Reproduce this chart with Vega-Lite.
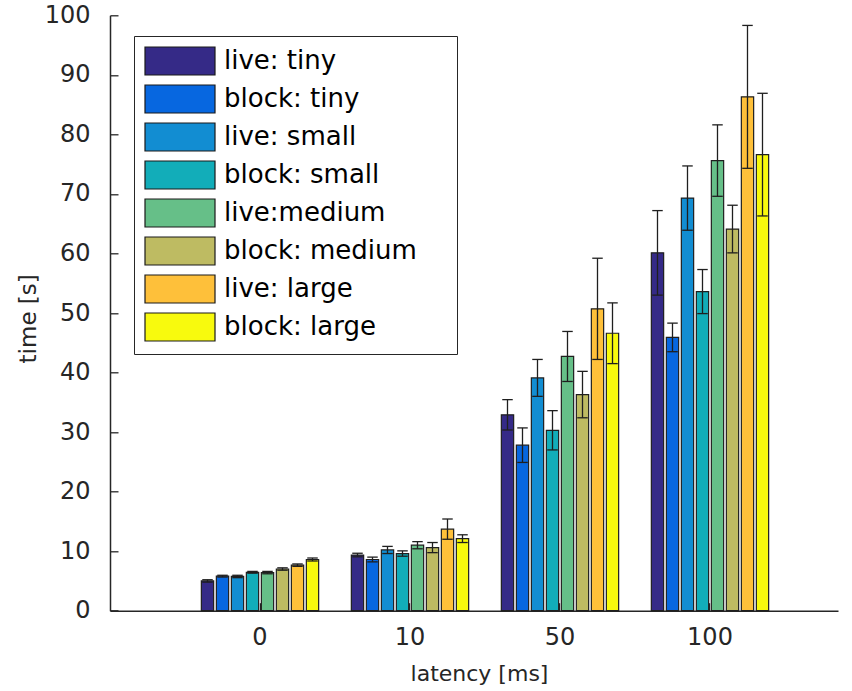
{
  "$schema": "https://vega.github.io/schema/vega-lite/v6.json",
  "width": 728,
  "height": 595.4,
  "autosize": {"type": "none"},
  "padding": {"left": 110, "top": 15.3, "right": 14, "bottom": 80.3},
  "background": "white",
  "config": {"view": {"stroke": null}, "font": "DejaVu Sans"},
  "data": {
    "values": [
      {"latency": "0", "config": "live: tiny", "time": 5.0, "lo": 4.8, "hi": 5.2},
      {"latency": "0", "config": "block: tiny", "time": 5.8, "lo": 5.65, "hi": 5.95},
      {"latency": "0", "config": "live: small", "time": 5.75, "lo": 5.55, "hi": 5.95},
      {"latency": "0", "config": "block: small", "time": 6.45, "lo": 6.3, "hi": 6.6},
      {"latency": "0", "config": "live:medium", "time": 6.4, "lo": 6.2, "hi": 6.6},
      {"latency": "0", "config": "block: medium", "time": 7.0, "lo": 6.8, "hi": 7.2},
      {"latency": "0", "config": "live: large", "time": 7.65, "lo": 7.45, "hi": 7.85},
      {"latency": "0", "config": "block: large", "time": 8.6, "lo": 8.35, "hi": 8.85},
      {"latency": "10", "config": "live: tiny", "time": 9.35, "lo": 9.05, "hi": 9.65},
      {"latency": "10", "config": "block: tiny", "time": 8.6, "lo": 8.2, "hi": 9.0},
      {"latency": "10", "config": "live: small", "time": 10.2, "lo": 9.6, "hi": 10.8},
      {"latency": "10", "config": "block: small", "time": 9.6, "lo": 9.15, "hi": 10.05},
      {"latency": "10", "config": "live:medium", "time": 11.0, "lo": 10.4, "hi": 11.6},
      {"latency": "10", "config": "block: medium", "time": 10.6, "lo": 9.75, "hi": 11.45},
      {"latency": "10", "config": "live: large", "time": 13.7, "lo": 12.0, "hi": 15.4},
      {"latency": "10", "config": "block: large", "time": 12.1, "lo": 11.45, "hi": 12.75},
      {"latency": "50", "config": "live: tiny", "time": 32.9, "lo": 30.35, "hi": 35.45},
      {"latency": "50", "config": "block: tiny", "time": 27.8, "lo": 24.9, "hi": 30.7},
      {"latency": "50", "config": "live: small", "time": 39.1, "lo": 36.0, "hi": 42.2},
      {"latency": "50", "config": "block: small", "time": 30.3, "lo": 27.0, "hi": 33.6},
      {"latency": "50", "config": "live:medium", "time": 42.7, "lo": 38.5, "hi": 46.9},
      {"latency": "50", "config": "block: medium", "time": 36.3, "lo": 32.4, "hi": 40.2},
      {"latency": "50", "config": "live: large", "time": 50.7, "lo": 42.2, "hi": 59.2},
      {"latency": "50", "config": "block: large", "time": 46.6, "lo": 41.5, "hi": 51.7},
      {"latency": "100", "config": "live: tiny", "time": 60.1, "lo": 53.0, "hi": 67.2},
      {"latency": "100", "config": "block: tiny", "time": 45.9, "lo": 43.5, "hi": 48.3},
      {"latency": "100", "config": "live: small", "time": 69.3, "lo": 63.9, "hi": 74.7},
      {"latency": "100", "config": "block: small", "time": 53.6, "lo": 49.9, "hi": 57.3},
      {"latency": "100", "config": "live:medium", "time": 75.6, "lo": 69.6, "hi": 81.6},
      {"latency": "100", "config": "block: medium", "time": 64.1, "lo": 60.1, "hi": 68.1},
      {"latency": "100", "config": "live: large", "time": 86.3, "lo": 74.3, "hi": 98.3},
      {"latency": "100", "config": "block: large", "time": 76.6, "lo": 66.3, "hi": 86.9}
    ]
  },
  "encoding": {
    "x": {
      "field": "latency",
      "type": "ordinal",
      "sort": ["0", "10", "50", "100"],
      "scale": {"paddingInner": 0.2, "paddingOuter": 0.5267, "align": 0.5696},
      "axis": {
        "title": "latency [ms]",
        "labelAngle": 0,
        "tickSize": -8,
        "tickWidth": 1.3,
        "tickColor": "#262626",
        "domainColor": "#262626",
        "domainWidth": 1.5,
        "labelFontSize": 24,
        "labelColor": "#262626",
        "labelPadding": 23,
        "labelBaseline": "top",
        "titleFontSize": 22,
        "titleFontWeight": "normal",
        "titleColor": "#262626",
        "titleX": 369,
        "titleY": 63,
        "titleBaseline": "middle",
        "titleAnchor": null,
        "titleAlign": "center"
      }
    },
    "xOffset": {
      "field": "config",
      "type": "nominal",
      "sort": ["live: tiny", "block: tiny", "live: small", "block: small", "live:medium", "block: medium", "live: large", "block: large"],
      "scale": {"paddingInner": 0.18, "paddingOuter": 0.09}
    }
  },
  "layer": [
    {
      "mark": {"type": "bar", "stroke": "#1f1f1f", "strokeWidth": 1.2, "opacity": 1},
      "encoding": {
        "y": {
          "field": "time",
          "type": "quantitative",
          "title": "time [s]",
          "scale": {"domain": [0, 100], "nice": false},
          "axis": {
            "values": [0, 10, 20, 30, 40, 50, 60, 70, 80, 90, 100],
            "grid": false,
            "tickSize": -8,
            "tickWidth": 1.3,
            "tickColor": "#262626",
            "domainColor": "#262626",
            "domainWidth": 1.5,
            "labelFontSize": 24,
            "labelColor": "#262626",
            "labelPadding": 28,
            "titleFontSize": 23,
            "titleFontWeight": "normal",
            "titleColor": "#262626",
            "titleX": -82,
            "titleY": 303,
            "titleAngle": -90,
            "titleBaseline": "middle",
            "titleAlign": "center"
          }
        },
        "color": {
          "field": "config",
          "type": "nominal",
          "sort": ["live: tiny", "block: tiny", "live: small", "block: small", "live:medium", "block: medium", "live: large", "block: large"],
          "scale": {
            "domain": ["live: tiny", "block: tiny", "live: small", "block: small", "live:medium", "block: medium", "live: large", "block: large"],
            "range": ["#352a87", "#0767e0", "#128dd2", "#12adb9", "#66bf88", "#bebb62", "#fec03a", "#f8fa0d"]
          },
          "legend": {
            "title": null,
            "orient": "none",
            "legendX": 24,
            "legendY": 20.7,
            "direction": "vertical",
            "strokeColor": "#262626",
            "fillColor": "white",
            "padding": 10,
            "symbolType": "M-1,-1H4V1H-1Z",
            "symbolSize": 784,
            "symbolStrokeColor": "#1a1a1a",
            "symbolStrokeWidth": 1.2,
            "symbolOpacity": 1,
            "labelFontSize": 26,
            "labelColor": "#000000",
            "labelOffset": 50,
            "labelLimit": 400,
            "rowPadding": 4,
            "labelExpr": "datum.label + '\u00a0\u00a0\u00a0\u2009\u200b'"
          }
        }
      }
    },
    {
      "mark": {"type": "rule", "color": "#1f1f1f", "strokeWidth": 1.3},
      "encoding": {
        "y": {"field": "lo", "type": "quantitative", "title": "time [s]"},
        "y2": {"field": "hi"}
      }
    },
    {
      "mark": {"type": "tick", "color": "#1f1f1f", "thickness": 1.3, "size": 10.5, "opacity": 1},
      "encoding": {
        "y": {"field": "lo", "type": "quantitative", "title": "time [s]"}
      }
    },
    {
      "mark": {"type": "tick", "color": "#1f1f1f", "thickness": 1.3, "size": 10.5, "opacity": 1},
      "encoding": {
        "y": {"field": "hi", "type": "quantitative", "title": "time [s]"}
      }
    }
  ]
}
